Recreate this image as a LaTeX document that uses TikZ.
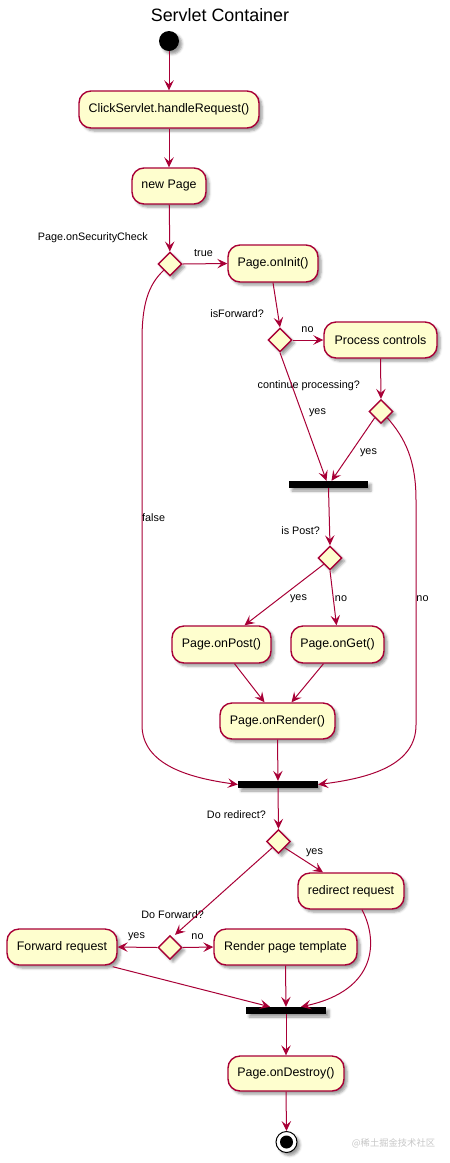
\documentclass[tikz,border=0pt]{standalone}
\usepackage{fontspec}
\setmainfont{Liberation Sans}
\newfontfamily\cjkfont{Noto Sans CJK SC}
\usetikzlibrary{arrows.meta,shapes.geometric,shadows.blur}
\definecolor{umlred}{HTML}{A80036}
\definecolor{umlfill}{HTML}{FEFECE}
\tikzset{
  shd/.style={blur shadow={shadow xshift=3pt,shadow yshift=-3pt,shadow blur radius=2.5pt,shadow opacity=40}},
  act/.style={draw=umlred,fill=umlfill,line width=1.4pt,rounded corners=12pt,minimum height=36pt,inner sep=0pt,
    font=\fontsize{12.4}{14}\selectfont,shd},
  dec/.style={draw=umlred,fill=umlfill,line width=1.4pt,diamond,aspect=1,minimum width=24pt,minimum height=24pt,inner sep=0pt,shd},
  bar/.style={fill=black,rectangle,minimum width=80pt,minimum height=7pt,inner sep=0pt,shd},
  arr/.style={draw=umlred,line width=1pt,-{Stealth[length=10pt,width=9.5pt,inset=4pt]}},
  lbl/.style={font=\fontsize{10.8}{12}\selectfont,inner sep=0pt},
}
\begin{document}
\begin{tikzpicture}[x=1pt,y=-1pt]
\useasboundingbox (0,0) rectangle (450,1163);
% title
\node[font=\fontsize{17.9}{20}\selectfont,inner sep=0pt] (title) at (220,15) {Servlet Container};
% nodes
\node[circle,fill=black,minimum size=20pt,inner sep=0pt,shd] (start) at (169,41) {};
\node[act,minimum width=180pt,minimum height=37pt] (click) at (169,109.5) {ClickServlet.handleRequest()};
\node[act,minimum width=74pt] (newpage) at (169,186) {new Page};
\node[dec] (d1) at (170,264) {};
\node[act,minimum width=90pt,minimum height=37pt] (oninit) at (273,263.5) {Page.onInit()};
\node[dec] (d2) at (280,340) {};
\node[act,minimum width=113pt] (proc) at (380.5,340) {Process controls};
\node[dec] (d3) at (381,411.5) {};
\node[bar,minimum width=79pt] (bar1) at (328.5,484.5) {};
\node[dec] (d4) at (330,558) {};
\node[act,minimum width=99pt,minimum height=37pt] (onpost) at (221.5,644.5) {Page.onPost()};
\node[act,minimum width=93pt,minimum height=37pt] (onget) at (337.5,644.5) {Page.onGet()};
\node[act,minimum width=115pt] (onrender) at (277.5,721) {Page.onRender()};
\node[bar] (bar2) at (278,784.5) {};
\node[dec] (d5) at (278.5,841.5) {};
\node[act,minimum width=106pt] (redirect) at (351,891) {redirect request};
\node[dec] (d6) at (170,947.5) {};
\node[act,minimum width=110pt] (fwd) at (62,947) {Forward request};
\node[act,minimum width=143pt] (render) at (285.5,947) {Render page template};
\node[bar] (bar3) at (286,1010.5) {};
\node[act,minimum width=116pt,minimum height=35pt] (destroy) at (286,1073.5) {Page.onDestroy()};
\node[circle,draw=black,fill=white,line width=1pt,minimum size=21pt,inner sep=0pt,shd] (end) at (286.5,1142) {};
\fill[black] (end.center) circle (6.5);
% decision labels
\node[lbl,anchor=east] (l1) at (148,238) {Page.onSecurityCheck};
\node[lbl,anchor=east] (l2) at (264,314) {isForward?};
\node[lbl,anchor=east] (l3) at (360,386) {continue processing?};
\node[lbl,anchor=east] (l4) at (320,531) {is Post?};
\node[lbl,anchor=east] (l5) at (266,815) {Do redirect?};
\node[lbl,anchor=east] (l6) at (204,915) {Do Forward?};
% connectors
\draw[arr] (start) -- (click);
\draw[arr] (click) -- (newpage);
\draw[arr] (newpage) -- (d1);
\draw[arr] (d1.east) -- (oninit.west);
\node[lbl] (ltrue) at (203.5,253) {true};
\draw[arr] (d1.south west) .. controls (148,285) and (142,305) .. (142,340) -- (142,725)
  .. controls (142,765) and (190,778) .. (bar2.west);
\node[lbl,anchor=west] (lfalse) at (142,518) {false};
\draw[arr] (oninit.south) -- (d2.north);
\draw[arr] (d2.east) -- (proc.west);
\node[lbl] (lno1) at (307.5,330) {no};
\draw[arr] (proc.south) -- (d3.north);
\draw[arr] (d2.south) -- ([xshift=-2pt]bar1.north);
\node[lbl] (lyes1) at (317.5,413) {yes};
\draw[arr] (d3.south west) -- ([xshift=3pt]bar1.north);
\node[lbl] (lyes2) at (368.5,453) {yes};
\draw[arr] (d3.south east) .. controls (405,438) and (416,460) .. (416,500) -- (416,725)
  .. controls (416,765) and (370,778) .. (bar2.east);
\node[lbl] (lno2) at (422.5,599) {no};
\draw[arr] (bar1.south) -- (d4.north);
\draw[arr] (d4.south west) -- ([xshift=23pt]onpost.north);
\node[lbl] (lyes3) at (298.5,599) {yes};
\draw[arr] (d4.south) -- ([xshift=-1pt]onget.north);
\node[lbl] (lno3) at (341,599) {no};
\draw[arr] ([xshift=13pt]onpost.south) -- ([xshift=-13pt]onrender.north);
\draw[arr] ([xshift=-14pt]onget.south) -- ([xshift=14pt]onrender.north);
\draw[arr] (onrender.south) -- (bar2.north);
\draw[arr] (bar2.south) -- (d5.north);
\draw[arr] (d5.south east) -- ([xshift=-28pt]redirect.north);
\node[lbl] (lyes4) at (314.5,853) {yes};
\draw[arr] (d5.south west) -- ([xshift=5pt]d6.north);
\draw[arr] (d6.west) -- (fwd.east);
\node[lbl] (lyes5) at (136.5,937) {yes};
\draw[arr] (d6.east) -- (render.west);
\node[lbl] (lno4) at (197.5,937) {no};
\draw[arr] (render.south) -- (bar3.north);
\draw[arr] ([xshift=-5pt,yshift=-1pt]fwd.south east) -- ([xshift=-16pt]bar3.north);
\draw[arr] ([xshift=11pt]redirect.south) .. controls (378,940) and (378,990) .. ([xshift=15pt]bar3.north);
\draw[arr] (bar3.south) -- (destroy.north);
\draw[arr] (destroy.south) -- (end.north);
% watermark
\node[font=\cjkfont\fontsize{9.3}{11}\selectfont,text=gray!45,inner sep=0pt] (wm) at (393.5,1143) {@稀土掘金技术社区};
\end{tikzpicture}
\end{document}
